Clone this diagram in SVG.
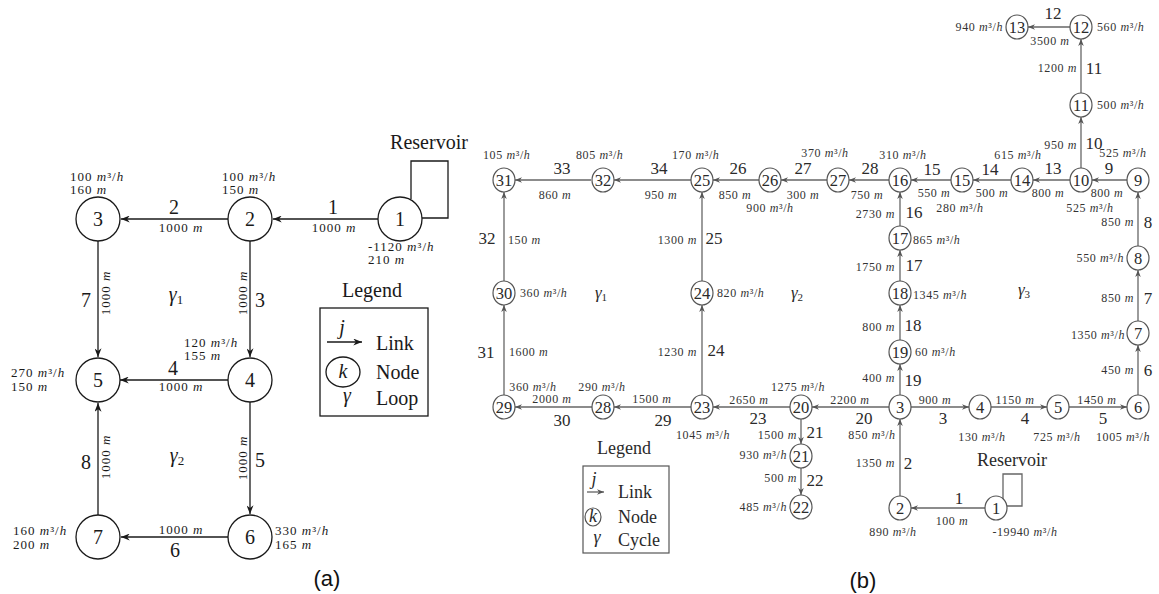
<svg xmlns="http://www.w3.org/2000/svg" width="1159" height="594" viewBox="0 0 1159 594">
<defs>
<style>
text{font-family:"Liberation Serif","DejaVu Serif",serif;}
.i{font-style:italic;}
.ca circle,.ca ellipse{fill:#fff;stroke:#1a1a1a;stroke-width:1.3;}
.cb ellipse{fill:#fff;stroke:#555;stroke-width:1.2;}
.na{font-size:20px;fill:#1a1a1a;text-anchor:middle;}
.nb{font-size:16.5px;fill:#2a2a2a;text-anchor:middle;}
.ta{font-size:13px;fill:#1a1a1a;letter-spacing:1px;}
.la{font-size:20px;fill:#1a1a1a;text-anchor:middle;}
.tb{font-size:12px;fill:#333;letter-spacing:0.6px;}
.lb{font-size:17px;fill:#2a2a2a;text-anchor:middle;}
.m{text-anchor:middle;}
.e{text-anchor:end;}
.ea line,.ea polyline{stroke:#1a1a1a;stroke-width:1.3;fill:none;}
.eb line,.eb polyline{stroke:#666;stroke-width:1.3;fill:none;}
.lg{font-size:20px;fill:#1a1a1a;}
.lgb{font-size:18px;fill:#2a2a2a;}
.cap{font-family:"Liberation Sans",Arial,sans-serif;font-size:22px;fill:#111;text-anchor:middle;}
</style>
<marker id="arA" viewBox="0 0 10 8" refX="10" refY="4" markerWidth="9" markerHeight="7" markerUnits="userSpaceOnUse" orient="auto"><path d="M0,0 L10,4 L0,8 L3,4 z" fill="#1a1a1a"/></marker>
<marker id="arB" viewBox="0 0 10 8" refX="10" refY="4" markerWidth="7" markerHeight="6" markerUnits="userSpaceOnUse" orient="auto"><path d="M0,0 L10,4 L0,8 L3,4 z" fill="#555"/></marker>
</defs>
<rect width="1159" height="594" fill="#fff"/>

<!-- ===== Part (a) ===== -->
<g id="connectors-a" class="ea">
<line x1="378" y1="219" x2="273" y2="219" marker-end="url(#arA)"/>
<line x1="228" y1="219" x2="121" y2="219" marker-end="url(#arA)"/>
<line x1="250" y1="241" x2="250" y2="357" marker-end="url(#arA)"/>
<line x1="228" y1="380" x2="120" y2="380" marker-end="url(#arA)"/>
<line x1="250" y1="402" x2="250" y2="514" marker-end="url(#arA)"/>
<line x1="228" y1="537" x2="121" y2="537" marker-end="url(#arA)"/>
<line x1="98" y1="241" x2="98" y2="357" marker-end="url(#arA)"/>
<line x1="98" y1="515" x2="98" y2="403" marker-end="url(#arA)"/>
<polyline points="411,199 411,161 448,161 448,218 422,218"/>
</g>
<g id="link-labels-a">
<text class="la" x="333" y="214">1</text><text class="ta m" x="334" y="232">1000 <tspan class="i">m</tspan></text>
<text class="la" x="174" y="214">2</text><text class="ta m" x="181" y="232">1000 <tspan class="i">m</tspan></text>
<text class="la" x="260" y="307">3</text><text class="ta m" transform="translate(247,293) rotate(-90)">1000 <tspan class="i">m</tspan></text>
<text class="la" x="173" y="375">4</text><text class="ta m" x="181" y="391">1000 <tspan class="i">m</tspan></text>
<text class="la" x="260" y="467">5</text><text class="ta m" transform="translate(247,458) rotate(-90)">1000 <tspan class="i">m</tspan></text>
<text class="la" x="175" y="557">6</text><text class="ta m" x="181" y="534">1000 <tspan class="i">m</tspan></text>
<text class="la" x="86" y="307">7</text><text class="ta m" transform="translate(110,293) rotate(-90)">1000 <tspan class="i">m</tspan></text>
<text class="la" x="86" y="469">8</text><text class="ta m" transform="translate(110,457) rotate(-90)">1000 <tspan class="i">m</tspan></text>
<text class="la" x="176" y="301"><tspan class="i">γ</tspan><tspan font-size="13" dy="3">1</tspan></text>
<text class="la" x="177" y="462"><tspan class="i">γ</tspan><tspan font-size="13" dy="3">2</tspan></text>
<text class="la" x="429" y="149">Reservoir</text>
</g>
<g id="a-node-1" class="ca"><circle cx="400" cy="219" r="22"/><text class="na" x="400" y="226">1</text>
<text class="ta" x="368" y="251">-1120 <tspan class="i">m</tspan>³/<tspan class="i">h</tspan></text><text class="ta" x="368" y="264">210 <tspan class="i">m</tspan></text></g>
<g id="a-node-2" class="ca"><circle cx="250" cy="219" r="22"/><text class="na" x="250" y="226">2</text>
<text class="ta" x="222" y="181">100 <tspan class="i">m</tspan>³/<tspan class="i">h</tspan></text><text class="ta" x="222" y="194">150 <tspan class="i">m</tspan></text></g>
<g id="a-node-3" class="ca"><circle cx="98" cy="219" r="22"/><text class="na" x="98" y="226">3</text>
<text class="ta" x="70" y="181">100 <tspan class="i">m</tspan>³/<tspan class="i">h</tspan></text><text class="ta" x="70" y="194">160 <tspan class="i">m</tspan></text></g>
<g id="a-node-4" class="ca"><circle cx="250" cy="380" r="22"/><text class="na" x="250" y="387">4</text>
<text class="ta" x="184" y="347">120 <tspan class="i">m</tspan>³/<tspan class="i">h</tspan></text><text class="ta" x="184" y="360">155 <tspan class="i">m</tspan></text></g>
<g id="a-node-5" class="ca"><circle cx="98" cy="380" r="22"/><text class="na" x="98" y="387">5</text>
<text class="ta" x="11" y="377">270 <tspan class="i">m</tspan>³/<tspan class="i">h</tspan></text><text class="ta" x="11" y="391">150 <tspan class="i">m</tspan></text></g>
<g id="a-node-6" class="ca"><circle cx="250" cy="537" r="22"/><text class="na" x="250" y="544">6</text>
<text class="ta" x="275" y="535">330 <tspan class="i">m</tspan>³/<tspan class="i">h</tspan></text><text class="ta" x="275" y="549">165 <tspan class="i">m</tspan></text></g>
<g id="a-node-7" class="ca"><circle cx="98" cy="537" r="22"/><text class="na" x="98" y="544">7</text>
<text class="ta" x="13" y="535">160 <tspan class="i">m</tspan>³/<tspan class="i">h</tspan></text><text class="ta" x="13" y="549">200 <tspan class="i">m</tspan></text></g>
<g id="a-legend" class="ca">
<text class="lg m" x="372" y="297">Legend</text>
<rect x="320" y="308" width="108" height="108" fill="none" stroke="#1a1a1a" stroke-width="1.3"/>
<text class="lg i m" x="342" y="334">j</text>
<line x1="327" y1="342" x2="362" y2="342" stroke="#1a1a1a" stroke-width="1.3" marker-end="url(#arA)"/>
<text class="lg" x="376" y="350">Link</text>
<ellipse cx="343" cy="372" rx="17" ry="15"/>
<text class="lg i m" x="343" y="378">k</text>
<text class="lg" x="376" y="379">Node</text>
<text class="lg i m" x="347" y="402">γ</text>
<text class="lg" x="376" y="405">Loop</text>
</g>
<text class="cap" x="327" y="586">(a)</text>

<!-- ===== Part (b) ===== -->
<g id="connectors-b" class="eb">
<line x1="985" y1="508" x2="911" y2="508" marker-end="url(#arB)"/>
<line x1="900" y1="496" x2="900" y2="419" marker-end="url(#arB)"/>
<line x1="911" y1="407" x2="969" y2="407" marker-end="url(#arB)"/>
<line x1="991" y1="407" x2="1047" y2="407" marker-end="url(#arB)"/>
<line x1="1069" y1="407" x2="1127" y2="407" marker-end="url(#arB)"/>
<line x1="1138" y1="395" x2="1138" y2="345" marker-end="url(#arB)"/>
<line x1="1138" y1="321" x2="1138" y2="270" marker-end="url(#arB)"/>
<line x1="1138" y1="246" x2="1138" y2="192" marker-end="url(#arB)"/>
<line x1="1127" y1="180" x2="1092" y2="180" marker-end="url(#arB)"/>
<line x1="1081" y1="168" x2="1081" y2="117" marker-end="url(#arB)"/>
<line x1="1081" y1="93" x2="1081" y2="39" marker-end="url(#arB)"/>
<line x1="1070" y1="27" x2="1028" y2="27" marker-end="url(#arB)"/>
<line x1="1070" y1="180" x2="1033" y2="180" marker-end="url(#arB)"/>
<line x1="1011" y1="180" x2="973" y2="180" marker-end="url(#arB)"/>
<line x1="951" y1="180" x2="911" y2="180" marker-end="url(#arB)"/>
<line x1="900" y1="226" x2="900" y2="192" marker-end="url(#arB)"/>
<line x1="900" y1="281" x2="900" y2="250" marker-end="url(#arB)"/>
<line x1="900" y1="340" x2="900" y2="305" marker-end="url(#arB)"/>
<line x1="900" y1="395" x2="900" y2="364" marker-end="url(#arB)"/>
<line x1="889" y1="407" x2="812" y2="407" marker-end="url(#arB)"/>
<line x1="801" y1="419" x2="801" y2="444" marker-end="url(#arB)"/>
<line x1="801" y1="468" x2="801" y2="495" marker-end="url(#arB)"/>
<line x1="790" y1="407" x2="713" y2="407" marker-end="url(#arB)"/>
<line x1="702" y1="395" x2="702" y2="305" marker-end="url(#arB)"/>
<line x1="702" y1="281" x2="702" y2="192" marker-end="url(#arB)"/>
<line x1="759" y1="180" x2="713" y2="180" marker-end="url(#arB)"/>
<line x1="827" y1="180" x2="781" y2="180" marker-end="url(#arB)"/>
<line x1="889" y1="180" x2="849" y2="180" marker-end="url(#arB)"/>
<line x1="691" y1="407" x2="614" y2="407" marker-end="url(#arB)"/>
<line x1="592" y1="407" x2="515" y2="407" marker-end="url(#arB)"/>
<line x1="504" y1="395" x2="504" y2="305" marker-end="url(#arB)"/>
<line x1="504" y1="281" x2="504" y2="192" marker-end="url(#arB)"/>
<line x1="591" y1="180" x2="515" y2="180" marker-end="url(#arB)"/>
<line x1="691" y1="180" x2="614" y2="180" marker-end="url(#arB)"/>
<polyline points="1003,499 1003,474 1022,474 1022,506 1007,506"/>
</g>
<g id="link-labels-b">
<text class="lb" x="959" y="504">1</text><text class="tb m" x="952" y="525">100 <tspan class="i">m</tspan></text>
<text class="lb" x="908" y="469">2</text><text class="tb e" x="895" y="467">1350 <tspan class="i">m</tspan></text>
<text class="lb" x="943" y="424">3</text><text class="tb m" x="935" y="404">900 <tspan class="i">m</tspan></text>
<text class="lb" x="1025" y="424">4</text><text class="tb m" x="1015" y="404">1150 <tspan class="i">m</tspan></text>
<text class="lb" x="1103" y="424">5</text><text class="tb m" x="1097" y="404">1450 <tspan class="i">m</tspan></text>
<text class="lb" x="1148" y="376">6</text><text class="tb e" x="1134" y="374">450 <tspan class="i">m</tspan></text>
<text class="lb" x="1148" y="304">7</text><text class="tb e" x="1134" y="302">850 <tspan class="i">m</tspan></text>
<text class="lb" x="1148" y="228">8</text><text class="tb e" x="1134" y="226">850 <tspan class="i">m</tspan></text>
<text class="lb" x="1109" y="174">9</text><text class="tb m" x="1107" y="197">800 <tspan class="i">m</tspan></text>
<text class="lb" x="1094" y="149">10</text><text class="tb e" x="1077" y="149">950 <tspan class="i">m</tspan></text>
<text class="lb" x="1094" y="74">11</text><text class="tb e" x="1077" y="72">1200 <tspan class="i">m</tspan></text>
<text class="lb" x="1053" y="19">12</text><text class="tb m" x="1050" y="45" letter-spacing="0.3">3500 <tspan class="i">m</tspan></text>
<text class="lb" x="1053" y="174">13</text><text class="tb m" x="1048" y="197">800 <tspan class="i">m</tspan></text>
<text class="lb" x="990" y="175">14</text><text class="tb m" x="992" y="197">500 <tspan class="i">m</tspan></text>
<text class="lb" x="932" y="175">15</text><text class="tb m" x="934" y="197">550 <tspan class="i">m</tspan></text>
<text class="lb" x="914" y="218">16</text><text class="tb e" x="895" y="218">2730 <tspan class="i">m</tspan></text>
<text class="lb" x="914" y="271">17</text><text class="tb e" x="895" y="271">1750 <tspan class="i">m</tspan></text>
<text class="lb" x="913" y="331">18</text><text class="tb e" x="895" y="331">800 <tspan class="i">m</tspan></text>
<text class="lb" x="913" y="386">19</text><text class="tb e" x="895" y="382">400 <tspan class="i">m</tspan></text>
<text class="lb" x="864" y="424">20</text><text class="tb m" x="850" y="404">2200 <tspan class="i">m</tspan></text>
<text class="lb" x="815" y="438">21</text><text class="tb e" x="797" y="439">1500 <tspan class="i">m</tspan></text>
<text class="lb" x="815" y="486">22</text><text class="tb e" x="797" y="482">500 <tspan class="i">m</tspan></text>
<text class="lb" x="758" y="424">23</text><text class="tb m" x="749" y="404">2650 <tspan class="i">m</tspan></text>
<text class="lb" x="716" y="356">24</text><text class="tb e" x="697" y="356">1230 <tspan class="i">m</tspan></text>
<text class="lb" x="714" y="244">25</text><text class="tb e" x="697" y="244">1300 <tspan class="i">m</tspan></text>
<text class="lb" x="738" y="174">26</text><text class="tb m" x="735" y="199">850 <tspan class="i">m</tspan></text>
<text class="lb" x="803" y="174">27</text><text class="tb m" x="803" y="199">300 <tspan class="i">m</tspan></text>
<text class="lb" x="870" y="174">28</text><text class="tb m" x="867" y="199">750 <tspan class="i">m</tspan></text>
<text class="lb" x="663" y="426">29</text><text class="tb m" x="652" y="403">1500 <tspan class="i">m</tspan></text>
<text class="lb" x="562" y="426">30</text><text class="tb m" x="552" y="403">2000 <tspan class="i">m</tspan></text>
<text class="lb" x="486" y="358">31</text><text class="tb" x="509" y="356">1600 <tspan class="i">m</tspan></text>
<text class="lb" x="487" y="244">32</text><text class="tb" x="508" y="244">150 <tspan class="i">m</tspan></text>
<text class="lb" x="562" y="174">33</text><text class="tb m" x="555" y="199">860 <tspan class="i">m</tspan></text>
<text class="lb" x="659" y="174">34</text><text class="tb m" x="661" y="199">950 <tspan class="i">m</tspan></text>
<text class="lb" x="601" y="298"><tspan class="i">γ</tspan><tspan font-size="11" dy="3">1</tspan></text>
<text class="lb" x="797" y="298"><tspan class="i">γ</tspan><tspan font-size="11" dy="3">2</tspan></text>
<text class="lb" x="1024" y="295"><tspan class="i">γ</tspan><tspan font-size="11" dy="3">3</tspan></text>
<text class="lgb m" x="1012" y="466">Reservoir</text>
</g>
<g id="b-node-1" class="cb"><ellipse cx="996" cy="508" rx="11" ry="12"/><text class="nb" x="996" y="514">1</text><text class="tb m" x="1025" y="536">-19940 <tspan class="i">m</tspan>³/<tspan class="i">h</tspan></text></g>
<g id="b-node-2" class="cb"><ellipse cx="900" cy="508" rx="11" ry="12"/><text class="nb" x="900" y="514">2</text><text class="tb m" x="893" y="536">890 <tspan class="i">m</tspan>³/<tspan class="i">h</tspan></text></g>
<g id="b-node-3" class="cb"><ellipse cx="900" cy="407" rx="11" ry="12"/><text class="nb" x="900" y="413">3</text><text class="tb m" x="872" y="439">850 <tspan class="i">m</tspan>³/<tspan class="i">h</tspan></text></g>
<g id="b-node-4" class="cb"><ellipse cx="980" cy="407" rx="11" ry="12"/><text class="nb" x="980" y="413">4</text><text class="tb m" x="982" y="441">130 <tspan class="i">m</tspan>³/<tspan class="i">h</tspan></text></g>
<g id="b-node-5" class="cb"><ellipse cx="1058" cy="407" rx="11" ry="12"/><text class="nb" x="1058" y="413">5</text><text class="tb m" x="1057" y="441">725 <tspan class="i">m</tspan>³/<tspan class="i">h</tspan></text></g>
<g id="b-node-6" class="cb"><ellipse cx="1138" cy="407" rx="11" ry="12"/><text class="nb" x="1138" y="413">6</text><text class="tb m" x="1123" y="441">1005 <tspan class="i">m</tspan>³/<tspan class="i">h</tspan></text></g>
<g id="b-node-7" class="cb"><ellipse cx="1138" cy="333" rx="11" ry="12"/><text class="nb" x="1138" y="339">7</text><text class="tb e" x="1125" y="339">1350 <tspan class="i">m</tspan>³/<tspan class="i">h</tspan></text></g>
<g id="b-node-8" class="cb"><ellipse cx="1138" cy="258" rx="11" ry="12"/><text class="nb" x="1138" y="264">8</text><text class="tb e" x="1124" y="262">550 <tspan class="i">m</tspan>³/<tspan class="i">h</tspan></text></g>
<g id="b-node-9" class="cb"><ellipse cx="1138" cy="180" rx="11" ry="12"/><text class="nb" x="1138" y="186">9</text><text class="tb m" x="1123" y="157">525 <tspan class="i">m</tspan>³/<tspan class="i">h</tspan></text></g>
<g id="b-node-10" class="cb"><ellipse cx="1081" cy="180" rx="11" ry="12"/><text class="nb" x="1081" y="186">10</text><text class="tb m" x="1090" y="212">525 <tspan class="i">m</tspan>³/<tspan class="i">h</tspan></text></g>
<g id="b-node-11" class="cb"><ellipse cx="1081" cy="105" rx="11" ry="12"/><text class="nb" x="1081" y="111">11</text><text class="tb" x="1097" y="109">500 <tspan class="i">m</tspan>³/<tspan class="i">h</tspan></text></g>
<g id="b-node-12" class="cb"><ellipse cx="1081" cy="27" rx="11" ry="12"/><text class="nb" x="1081" y="33">12</text><text class="tb" x="1097" y="31">560 <tspan class="i">m</tspan>³/<tspan class="i">h</tspan></text></g>
<g id="b-node-13" class="cb"><ellipse cx="1017" cy="27" rx="11" ry="12"/><text class="nb" x="1017" y="33">13</text><text class="tb e" x="1003" y="31">940 <tspan class="i">m</tspan>³/<tspan class="i">h</tspan></text></g>
<g id="b-node-14" class="cb"><ellipse cx="1022" cy="180" rx="11" ry="12"/><text class="nb" x="1022" y="186">14</text><text class="tb m" x="1018" y="159">615 <tspan class="i">m</tspan>³/<tspan class="i">h</tspan></text></g>
<g id="b-node-15" class="cb"><ellipse cx="962" cy="180" rx="11" ry="12"/><text class="nb" x="962" y="186">15</text><text class="tb m" x="960" y="212">280 <tspan class="i">m</tspan>³/<tspan class="i">h</tspan></text></g>
<g id="b-node-16" class="cb"><ellipse cx="900" cy="180" rx="11" ry="12"/><text class="nb" x="900" y="186">16</text><text class="tb m" x="903" y="159">310 <tspan class="i">m</tspan>³/<tspan class="i">h</tspan></text></g>
<g id="b-node-17" class="cb"><ellipse cx="900" cy="238" rx="11" ry="12"/><text class="nb" x="900" y="244">17</text><text class="tb" x="913" y="244">865 <tspan class="i">m</tspan>³/<tspan class="i">h</tspan></text></g>
<g id="b-node-18" class="cb"><ellipse cx="900" cy="293" rx="11" ry="12"/><text class="nb" x="900" y="299">18</text><text class="tb" x="913" y="299">1345 <tspan class="i">m</tspan>³/<tspan class="i">h</tspan></text></g>
<g id="b-node-19" class="cb"><ellipse cx="900" cy="352" rx="11" ry="12"/><text class="nb" x="900" y="358">19</text><text class="tb" x="915" y="356">60 <tspan class="i">m</tspan>³/<tspan class="i">h</tspan></text></g>
<g id="b-node-20" class="cb"><ellipse cx="801" cy="407" rx="11" ry="12"/><text class="nb" x="801" y="413">20</text><text class="tb m" x="798" y="391">1275 <tspan class="i">m</tspan>³/<tspan class="i">h</tspan></text></g>
<g id="b-node-21" class="cb"><ellipse cx="801" cy="456" rx="11" ry="12"/><text class="nb" x="801" y="462">21</text><text class="tb e" x="787" y="459">930 <tspan class="i">m</tspan>³/<tspan class="i">h</tspan></text></g>
<g id="b-node-22" class="cb"><ellipse cx="801" cy="507" rx="11" ry="12"/><text class="nb" x="801" y="513">22</text><text class="tb e" x="787" y="511">485 <tspan class="i">m</tspan>³/<tspan class="i">h</tspan></text></g>
<g id="b-node-23" class="cb"><ellipse cx="702" cy="407" rx="11" ry="12"/><text class="nb" x="702" y="413">23</text><text class="tb m" x="703" y="439">1045 <tspan class="i">m</tspan>³/<tspan class="i">h</tspan></text></g>
<g id="b-node-24" class="cb"><ellipse cx="702" cy="293" rx="11" ry="12"/><text class="nb" x="702" y="299">24</text><text class="tb" x="717" y="297">820 <tspan class="i">m</tspan>³/<tspan class="i">h</tspan></text></g>
<g id="b-node-25" class="cb"><ellipse cx="702" cy="180" rx="11" ry="12"/><text class="nb" x="702" y="186">25</text><text class="tb" x="672" y="159">170 <tspan class="i">m</tspan>³/<tspan class="i">h</tspan></text></g>
<g id="b-node-26" class="cb"><ellipse cx="770" cy="180" rx="11" ry="12"/><text class="nb" x="770" y="186">26</text><text class="tb m" x="770" y="212">900 <tspan class="i">m</tspan>³/<tspan class="i">h</tspan></text></g>
<g id="b-node-27" class="cb"><ellipse cx="838" cy="180" rx="11" ry="12"/><text class="nb" x="838" y="186">27</text><text class="tb m" x="825" y="157">370 <tspan class="i">m</tspan>³/<tspan class="i">h</tspan></text></g>
<g id="b-node-28" class="cb"><ellipse cx="603" cy="407" rx="11" ry="12"/><text class="nb" x="603" y="413">28</text><text class="tb m" x="602" y="391">290 <tspan class="i">m</tspan>³/<tspan class="i">h</tspan></text></g>
<g id="b-node-29" class="cb"><ellipse cx="504" cy="407" rx="11" ry="12"/><text class="nb" x="504" y="413">29</text><text class="tb m" x="533" y="391">360 <tspan class="i">m</tspan>³/<tspan class="i">h</tspan></text></g>
<g id="b-node-30" class="cb"><ellipse cx="504" cy="293" rx="11" ry="12"/><text class="nb" x="504" y="299">30</text><text class="tb" x="520" y="297">360 <tspan class="i">m</tspan>³/<tspan class="i">h</tspan></text></g>
<g id="b-node-31" class="cb"><ellipse cx="504" cy="180" rx="11" ry="12"/><text class="nb" x="504" y="186">31</text><text class="tb" x="483" y="159">105 <tspan class="i">m</tspan>³/<tspan class="i">h</tspan></text></g>
<g id="b-node-32" class="cb"><ellipse cx="603" cy="180" rx="11" ry="12"/><text class="nb" x="603" y="186">32</text><text class="tb" x="576" y="159">805 <tspan class="i">m</tspan>³/<tspan class="i">h</tspan></text></g>
<g id="b-legend" class="cb">
<text class="lgb m" x="624" y="454">Legend</text>
<rect x="583" y="466" width="86" height="87" fill="none" stroke="#555" stroke-width="1.2"/>
<text class="lgb i m" x="594" y="485">j</text>
<line x1="587" y1="492" x2="604" y2="492" stroke="#555" stroke-width="1.2" marker-end="url(#arB)"/>
<text class="lgb" x="618" y="498">Link</text>
<ellipse cx="593" cy="517" rx="8" ry="9"/>
<text class="lgb i m" x="593" y="522" font-size="13">k</text>
<text class="lgb" x="618" y="523">Node</text>
<text class="lgb i m" x="597" y="543">γ</text>
<text class="lgb" x="618" y="546">Cycle</text>
</g>
<text class="cap" x="863" y="588">(b)</text>
</svg>
